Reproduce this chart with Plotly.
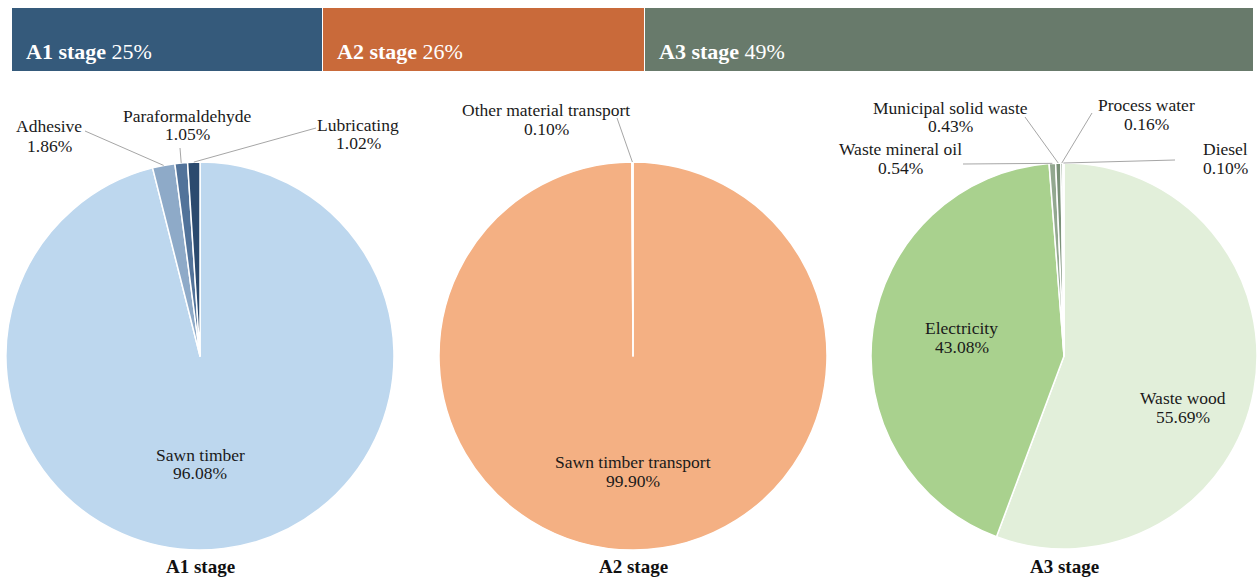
import math
import plotly.graph_objects as go

W, H = 1258, 578

# ---------------- data ----------------
stage_names = ["A1 stage", "A2 stage", "A3 stage"]
stage_shares = [25, 26, 49]
stage_colors = ["#355a7b", "#c96a3a", "#687a6b"]

a1_labels = ["Sawn timber", "Adhesive", "Paraformaldehyde", "Lubricating"]
a1_values = [96.08, 1.86, 1.05, 1.02]
a1_colors = ["#bdd7ee", "#8eaac8", "#52739a", "#2b4a6e"]

a2_labels = ["Sawn timber transport", "Other material transport"]
a2_values = [99.90, 0.10]
a2_colors = ["#f4b083", "#d98a55"]

a3_labels = ["Waste wood", "Electricity", "Waste mineral oil",
             "Municipal solid waste", "Process water", "Diesel"]
a3_values = [55.69, 43.08, 0.54, 0.43, 0.16, 0.10]
a3_colors = ["#e2efda", "#a9d18e", "#93a890", "#7a9178", "#5d7a5c", "#c5e0b4"]

# ---------------- layout geometry (pixels) ----------------
pies = [
    dict(labels=a1_labels, values=a1_values, colors=a1_colors, cx=200, cy=356, r=194,
         label_pos={"Sawn timber": (200, 464), "Adhesive": (49, 136),
                    "Paraformaldehyde": (187, 125), "Lubricating": (358, 134)},
         line_start={"Adhesive": (85, 131), "Paraformaldehyde": (180, 148),
                     "Lubricating": (316, 128)}),
    dict(labels=a2_labels, values=a2_values, colors=a2_colors, cx=633, cy=356, r=194,
         label_pos={"Sawn timber transport": (633, 471),
                    "Other material transport": (546, 120)},
         line_start={"Other material transport": (617, 118)}),
    dict(labels=a3_labels, values=a3_values, colors=a3_colors, cx=1064, cy=356, r=193,
         label_pos={"Waste wood": (1183, 407), "Electricity": (962, 337),
                    "Waste mineral oil": (900, 158), "Municipal solid waste": (950, 117),
                    "Process water": (1146, 114), "Diesel": (1225, 158)},
         line_start={"Waste mineral oil": (963, 164), "Municipal solid waste": (1025, 117),
                     "Process water": (1092, 113), "Diesel": (1175, 160)}),
]

def px(x):
    return x / W

def py(y):
    return 1 - y / H

FONT = "Liberation Serif"
LINE_GAP = 19  # px between the two lines of a label
fig = go.Figure()
annotations = []
shapes = []

def label_line(x, y, text):
    return dict(x=px(x), y=py(y), xref="paper", yref="paper", showarrow=False,
                xanchor="center", yanchor="middle", align="center", text=text,
                font=dict(family=FONT, size=17.5, color="#1a1a1a"))

for p in pies:
    cx, cy, r = p["cx"], p["cy"], p["r"]
    fig.add_trace(go.Pie(
        labels=p["labels"], values=p["values"],
        marker=dict(colors=p["colors"], line=dict(color="white", width=1.5)),
        sort=False, direction="clockwise", rotation=0,
        textinfo="none", hoverinfo="label+percent", showlegend=False,
        domain=dict(x=[px(cx - r), min(1, px(cx + r))], y=[py(cy + r), py(cy - r)]),
    ))
    total = sum(p["values"])
    cum = 0
    for lab, val in zip(p["labels"], p["values"]):
        mid = (cum + val / 2) / total * 2 * math.pi
        cum += val
        lx, ly = p["label_pos"][lab]
        annotations.append(label_line(lx, ly - LINE_GAP / 2, lab))
        annotations.append(label_line(lx, ly + LINE_GAP / 2, f"{val:.2f}%"))
        if lab in p["line_start"]:
            sx, sy = p["line_start"][lab]
            ex = cx + r * math.sin(mid)
            ey = cy - r * math.cos(mid)
            shapes.append(dict(type="line", xref="paper", yref="paper",
                               x0=px(sx), y0=py(sy), x1=px(ex), y1=py(ey),
                               line=dict(color="#a6a6a6", width=1)))

# bottom titles
for name, p in zip(stage_names, pies):
    annotations.append(dict(
        x=px(p["cx"]), y=py(566), xref="paper", yref="paper", showarrow=False,
        xanchor="center", yanchor="middle", text=f"<b>{name}</b>",
        font=dict(family=FONT, size=19, color="#111111")))

# header stacked bar
base = 0
for name, share, col in zip(stage_names, stage_shares, stage_colors):
    fig.add_trace(go.Bar(
        x=[share], y=["stage"], base=[base], orientation="h",
        marker=dict(color=col, line=dict(color="white", width=1.5)),
        showlegend=False, hoverinfo="x", width=1,
        xaxis="x", yaxis="y"))
    annotations.append(dict(
        x=base, y=0, xref="x", yref="y", xanchor="left", yanchor="middle",
        xshift=12, yshift=-12, showarrow=False,
        text=f"<b>{name}</b> {share}%",
        font=dict(family=FONT, size=22, color="white")))
    base += share

fig.update_layout(
    width=W, height=H,
    margin=dict(l=0, r=0, t=0, b=0),
    paper_bgcolor="white", plot_bgcolor="white",
    font=dict(family=FONT),
    barmode="stack", bargap=0,
    xaxis=dict(domain=[px(12), px(1254)], range=[0, sum(stage_shares)],
               visible=False, fixedrange=True),
    yaxis=dict(domain=[py(72), py(8)], range=[-0.5, 0.5], visible=False,
               fixedrange=True),
    annotations=annotations,
    shapes=shapes,
)

fig.write_html("out.html")
